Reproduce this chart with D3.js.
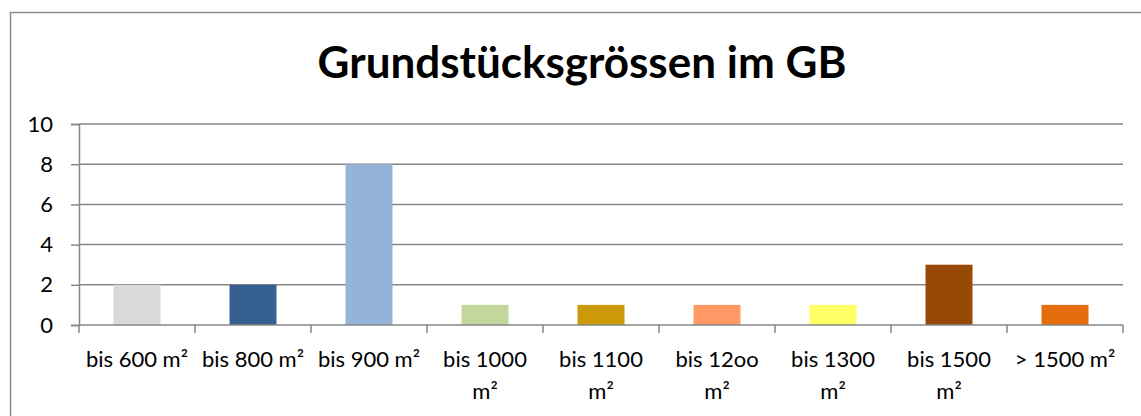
<!DOCTYPE html>
<html>
<head>
<meta charset="utf-8">
<script src="https://cdn.jsdelivr.net/npm/d3@7"></script>
<style>
  body { margin: 0; background: #fff; }
  svg { display: block; font-family: Lato, "Open Sans", sans-serif; }
</style>
</head>
<body>
<script>
const categories = ['bis 600 m²', 'bis 800 m²', 'bis 900 m²', 'bis 1000 m²', 'bis 1100 m²', 'bis 12oo m²', 'bis 1300 m²', 'bis 1500 m²', '> 1500 m²'];
// how excel wrapped the labels
const labelLines = [['bis 600 m²'], ['bis 800 m²'], ['bis 900 m²'], ['bis 1000', 'm²'], ['bis 1100', 'm²'], ['bis 12oo', 'm²'], ['bis 1300', 'm²'], ['bis 1500', 'm²'], ['> 1500 m²']];
const values = [2, 2, 8, 1, 1, 1, 1, 3, 1];
const colors = ['#d9d9d9', '#376092', '#95b3d7', '#c3d69b', '#cc9a06', '#ff9966', '#ffff66', '#984807', '#e46c0a'];
const yTicks = [0, 2, 4, 6, 8, 10];
const title = 'Grundstücksgrössen im GB';

function main() {
    const W = 1141, H = 416;
    const margin = {top: 124, left: 79, right: 18, bottom: 90};
    const fs = 22;

    const svg = d3.select('body').append('svg')
        .attr('width', W)
        .attr('height', H);

    // chart frame (runs off the picture on the right and bottom)
    svg.append('rect')
        .attr('x', 10.5).attr('y', 12.5)
        .attr('width', 1150).attr('height', 450)
        .attr('fill', 'none')
        .attr('stroke', '#8c8c8c')
        .attr('stroke-width', 1.5);

    const t = svg.append('text')
        .attr('x', 582).attr('y', 78)
        .attr('text-anchor', 'middle')
        .style('font-weight', 'bold')
        .style('font-size', '36px')
        .attr('fill', '#000')
        .text(title);
    // squeeze to the width of the original title
    const tw = t.node().getComputedTextLength();
    t.style('font-size', (36 * 529 / tw) + 'px');

    const x = d3.scaleBand()
        .domain(categories)
        .range([margin.left, W - margin.right])
        .paddingInner(0.595)
        .paddingOuter(0.2975);

    const y = d3.scaleLinear()
        .domain([0, 10])
        .range([H - margin.bottom - 1, margin.top]);

    const g = svg.append('g');

    // gridlines
    g.selectAll('line.grid')
        .data(yTicks.filter(d => d > 0))
        .enter().append('line')
        .attr('class', 'grid')
        .attr('x1', margin.left).attr('x2', W - margin.right)
        .attr('y1', d => y(d)).attr('y2', d => y(d))
        .attr('stroke', '#868686')
        .attr('stroke-width', 1.5);

    // bars
    g.selectAll('rect.bar')
        .data(values)
        .enter().append('rect')
        .attr('class', 'bar')
        .attr('x', (d, i) => x(categories[i]))
        .attr('width', x.bandwidth())
        .attr('y', d => y(d))
        .attr('height', d => y(0) - y(d))
        .attr('fill', (d, i) => colors[i]);

    // y axis
    const yAxis = d3.axisLeft(y)
        .tickValues(yTicks)
        .tickSize(8)
        .tickPadding(18);
    const ya = svg.append('g')
        .attr('transform', 'translate(' + margin.left + ',0)')
        .call(yAxis);
    ya.attr('font-size', null).attr('font-family', null);
    ya.select('.domain').attr('stroke', '#868686').attr('stroke-width', 1.5);
    ya.selectAll('.tick line').attr('stroke', '#868686').attr('stroke-width', 1.5);
    ya.selectAll('.tick text')
        .style('font-size', fs + 'px')
        .attr('fill', '#000');

    // x axis: baseline + ticks between categories
    const xa = svg.append('g');
    xa.append('line')
        .attr('x1', margin.left).attr('x2', W - margin.right)
        .attr('y1', y(0)).attr('y2', y(0))
        .attr('stroke', '#868686')
        .attr('stroke-width', 1.5);
    const bounds = categories.map(c => x(c) - x.step() * x.paddingOuter()).concat([W - margin.right]);
    xa.selectAll('line.xtick')
        .data(bounds)
        .enter().append('line')
        .attr('class', 'xtick')
        .attr('x1', d => d).attr('x2', d => d)
        .attr('y1', y(0)).attr('y2', y(0) + 8)
        .attr('stroke', '#868686')
        .attr('stroke-width', 1.5);

    const lbl = xa.selectAll('text.xl')
        .data(labelLines)
        .enter().append('text')
        .attr('class', 'xl')
        .attr('text-anchor', 'middle')
        .style('font-size', fs + 'px')
        .attr('fill', '#000')
        .attr('transform', (d, i) => 'translate(' + (x(categories[i]) + x.bandwidth() / 2) + ',' + (y(0) + 42) + ')');
    lbl.selectAll('tspan')
        .data(d => d)
        .enter().append('tspan')
        .attr('x', 0)
        .attr('dy', (d, i) => i === 0 ? 0 : 32)
        .text(d => d);
}
window.onload = main;
</script>
</body>
</html>
